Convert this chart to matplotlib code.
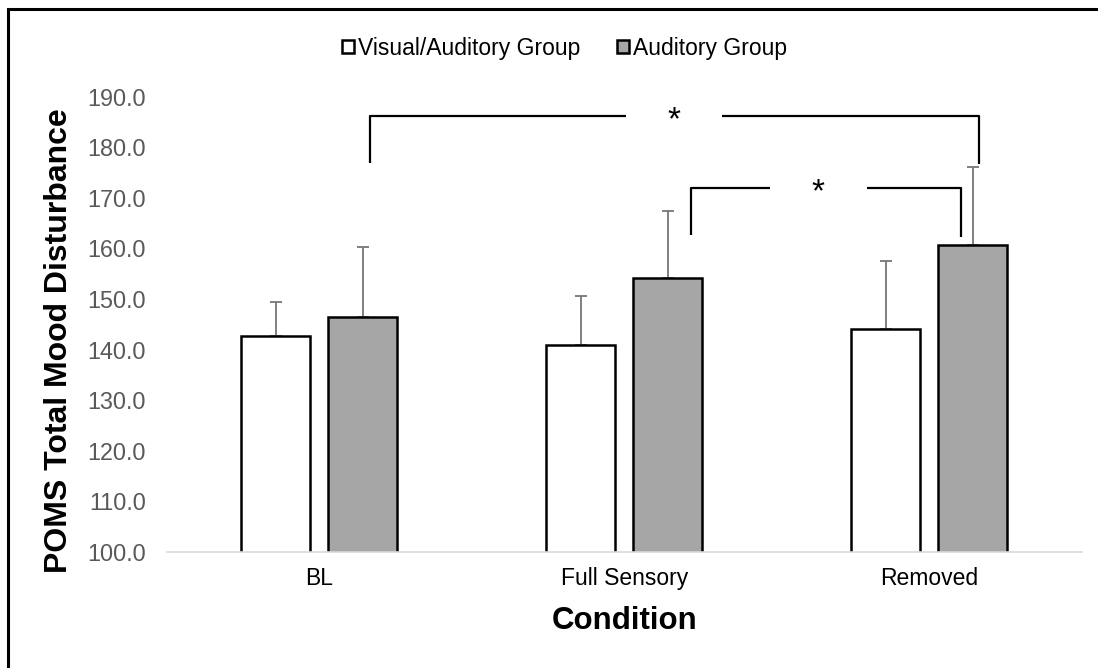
import numpy as np
import matplotlib
matplotlib.use('agg')
import matplotlib.pyplot as plt
from matplotlib.patches import Rectangle

## Data
conditions = ['BL', 'Full Sensory', 'Removed']
groups = ['Visual/Auditory Group', 'Auditory Group']
visual_auditory = [142.7, 140.9, 144.0]
visual_auditory_err = [6.6, 9.7, 13.4]
auditory = [146.5, 154.1, 160.7]
auditory_err = [13.8, 13.3, 15.4]
yticks = np.arange(100, 191, 10)

# significance brackets: x left/right, top y, bottoms of left/right legs, gap in line, star x
brackets = [
    dict(x0=0.167, x1=2.163, y=186.2, y0=176.9, y1=176.7, gap=(1.005, 1.321), star=1.163),
    dict(x0=1.218, x1=2.104, y=172.0, y0=162.6, y1=162.3, gap=(1.478, 1.795), star=1.634),
]

plt.rcParams['font.family'] = ['Liberation Sans', 'DejaVu Sans']

fig = plt.figure(figsize=(10.98, 6.68), dpi=100)
ax = fig.add_axes([166.7/1098, 116/668, 915/1098, 455.5/668])

x = np.arange(len(conditions))
w = 0.226
off = 0.1426
err_kw = dict(ecolor='#767676', elinewidth=1.3, capsize=4.2, capthick=1.3)

ax.bar(x - off, visual_auditory, w, bottom=0, color='white', edgecolor='black',
       linewidth=1.8, label=groups[0], zorder=2)
ax.errorbar(x - off, visual_auditory, yerr=[np.zeros(3), visual_auditory_err],
            fmt='none', zorder=1, **err_kw)
ax.bar(x + off, auditory, w, color='#A6A6A6', edgecolor='black',
       linewidth=1.8, label=groups[1], zorder=2)
ax.errorbar(x + off, auditory, yerr=[np.zeros(3), auditory_err],
            fmt='none', zorder=1, **err_kw)

ax.set_xlim(-0.5, 2.5)
ax.set_ylim(100, 190)
ax.set_yticks(yticks)
ax.set_yticklabels(['%.1f' % t for t in yticks])
ax.set_xticks(x)
ax.set_xticklabels(conditions)
ax.tick_params(axis='y', length=0, pad=15, labelsize=16.8, labelcolor='#595959')
ax.tick_params(axis='x', length=0, pad=11, labelsize=16.5, labelcolor='#000000')

for s in ['top', 'right', 'left']:
    ax.spines[s].set_visible(False)
ax.spines['bottom'].set_color('#D9D9D9')
ax.spines['bottom'].set_linewidth(1.2)

ax.set_ylabel('POMS Total Mood Disturbance', fontsize=23, fontweight='bold')
ax.yaxis.set_label_coords(-0.101, 0.465)
ax.set_xlabel('Condition', fontsize=22.5, fontweight='bold')
ax.xaxis.set_label_coords(0.5, -0.118)

# brackets with asterisks
for b in brackets:
    line_kw = dict(color='black', linewidth=1.6, clip_on=False, solid_capstyle='butt')
    ax.plot([b['x0'], b['x0'], b['gap'][0]], [b['y0'], b['y'], b['y']], **line_kw)
    ax.plot([b['gap'][1], b['x1'], b['x1']], [b['y'], b['y'], b['y1']], **line_kw)
    ax.annotate('*', (b['star'], b['y']), xytext=(0, -9.5), textcoords='offset points',
                ha='center', va='baseline', fontsize=24, annotation_clip=False)

ax.legend(loc='center', bbox_to_anchor=(0.514, 0.928), bbox_transform=fig.transFigure,
          ncol=2, frameon=False, fontsize=16.5, handlelength=0.55, handleheight=0.55,
          handletextpad=0.15, columnspacing=1.6)

# outer frame
fig.patches.append(Rectangle((8/1098, -0.1), 1.2, 0.1 + (668 - 9.5)/668,
                             transform=fig.transFigure, fill=False,
                             edgecolor='black', linewidth=2.2, clip_on=False))

plt.savefig('out.png', dpi=100)
